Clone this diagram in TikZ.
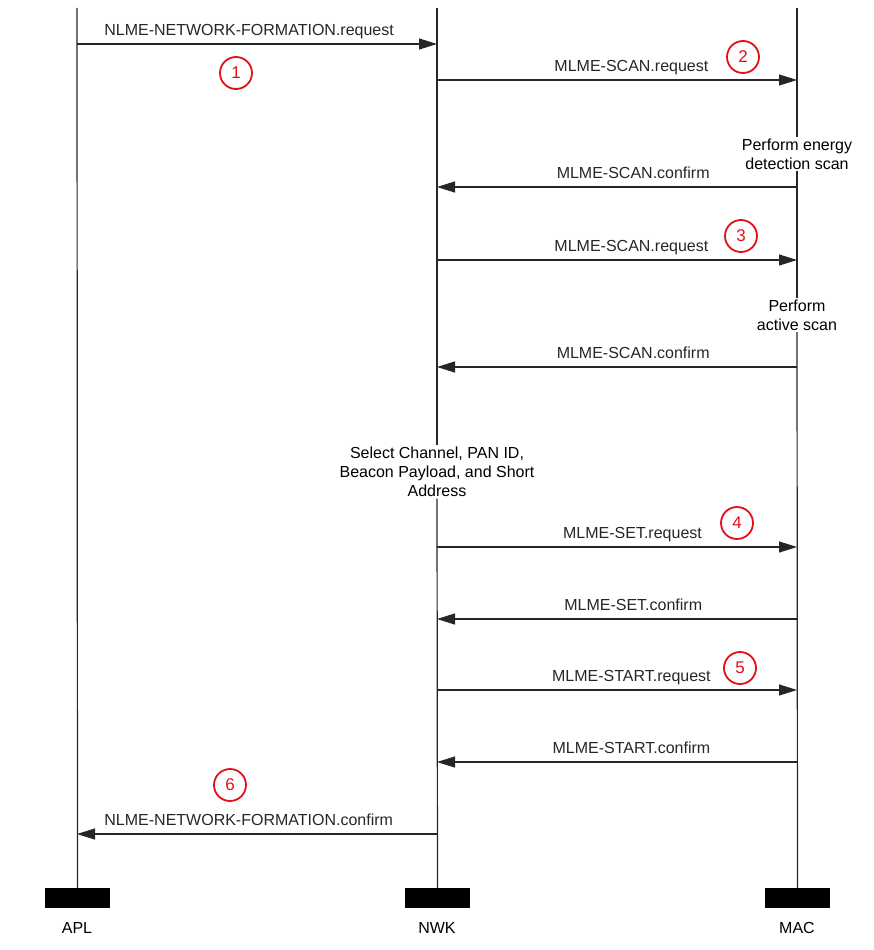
\documentclass[tikz,border=0pt]{standalone}
\usepackage{fontspec}
\setmainfont{Liberation Sans}
\usetikzlibrary{arrows.meta}

\definecolor{stepred}{RGB}{228,16,24}

\tikzset{
  lifeline/.style={line width=1.2pt, color=black!85},
  msg/.style={line width=1.2pt, color=black!85, -{Triangle[length=18pt,width=11pt]}},
  msglabel/.style={anchor=base, inner sep=0pt, yshift=8.5pt, font=\fontsize{16}{19}\selectfont},
  actnote/.style={align=center, inner sep=1.5pt, fill=white, font=\fontsize{16}{19}\selectfont},
  entitybox/.style={fill=black, draw=black, minimum width=64pt, minimum height=19pt, inner sep=0pt},
  entityname/.style={font=\fontsize{16}{19}\selectfont},
  stepmark/.style={circle, draw=stepred, text=stepred, line width=1.8pt, minimum size=32pt, inner sep=0pt, font=\fontsize{17}{19}\selectfont}
}

\begin{document}
\begin{tikzpicture}[x=1pt,y=-1pt]
\useasboundingbox (0,0) rectangle (874,950);

% entities
\node [entitybox] (aplBox) at (77.5,898) {};
\node [entitybox] (nwkBox) at (437.5,898) {};
\node [entitybox] (macBox) at (797.5,898) {};
\node [entityname] (aplName) at (77,928) {APL};
\node [entityname] (nwkName) at (437,928) {NWK};
\node [entityname] (macName) at (797,928) {MAC};

% action notes on the lifelines
\node [actnote] (energyScan) at (797,154) {Perform energy\\detection scan};
\node [actnote] (activeScan) at (797,315) {Perform\\active scan};
\node [actnote] (selectParams) at (437,472) {Select Channel, PAN ID,\\Beacon Payload, and Short\\Address};

% lifelines
\coordinate (aplTop) at (77,8);
\coordinate (nwkTop) at (437,8);
\coordinate (macTop) at (797,8);
\draw [lifeline] (aplTop) -- (aplBox.north);
\draw [lifeline] (nwkTop) -- (selectParams.north);
\draw [lifeline] (selectParams.south) -- (nwkBox.north);
\draw [lifeline] (macTop) -- (energyScan.north);
\draw [lifeline] (energyScan.south) -- (activeScan.north);
\draw [lifeline] (activeScan.south) -- (macBox.north);

% message end points
\coordinate (apl1) at (77,44);   \coordinate (nwk1) at (437,44);
\coordinate (nwk2) at (437,80);  \coordinate (mac2) at (797,80);
\coordinate (nwk3) at (437,187); \coordinate (mac3) at (797,187);
\coordinate (nwk4) at (437,260); \coordinate (mac4) at (797,260);
\coordinate (nwk5) at (437,367); \coordinate (mac5) at (797,367);
\coordinate (nwk6) at (437,547); \coordinate (mac6) at (797,547);
\coordinate (nwk7) at (437,619); \coordinate (mac7) at (797,619);
\coordinate (nwk8) at (437,690); \coordinate (mac8) at (797,690);
\coordinate (nwk9) at (437,762); \coordinate (mac9) at (797,762);
\coordinate (apl10) at (77,834); \coordinate (nwk10) at (437,834);

% messages
\draw [msg] (apl1) -- (nwk1) node [msglabel, pos=0.478] (formReq) {NLME-NETWORK-FORMATION.request};
\draw [msg] (nwk2) -- (mac2) node [msglabel, pos=0.54] (edScanReq) {MLME-SCAN.request};
\draw [msg] (mac3) -- (nwk3) node [msglabel, pos=0.455] (edScanConf) {MLME-SCAN.confirm};
\draw [msg] (nwk4) -- (mac4) node [msglabel, pos=0.54] (actScanReq) {MLME-SCAN.request};
\draw [msg] (mac5) -- (nwk5) node [msglabel, pos=0.455] (actScanConf) {MLME-SCAN.confirm};
\draw [msg] (nwk6) -- (mac6) node [msglabel, pos=0.543] (setReq) {MLME-SET.request};
\draw [msg] (mac7) -- (nwk7) node [msglabel, pos=0.455] (setConf) {MLME-SET.confirm};
\draw [msg] (nwk8) -- (mac8) node [msglabel, pos=0.54] (startReq) {MLME-START.request};
\draw [msg] (mac9) -- (nwk9) node [msglabel, pos=0.46] (startConf) {MLME-START.confirm};
\draw [msg] (nwk10) -- (apl10) node [msglabel, pos=0.523] (formConf) {NLME-NETWORK-FORMATION.confirm};

% step numbers
\node [stepmark] (stepOne) at (236,73) {1};
\node [stepmark] (stepTwo) at (743,57) {2};
\node [stepmark] (stepThree) at (741,236) {3};
\node [stepmark] (stepFour) at (737,523) {4};
\node [stepmark] (stepFive) at (740,668) {5};
\node [stepmark] (stepSix) at (230,785) {6};
\end{tikzpicture}
\end{document}
